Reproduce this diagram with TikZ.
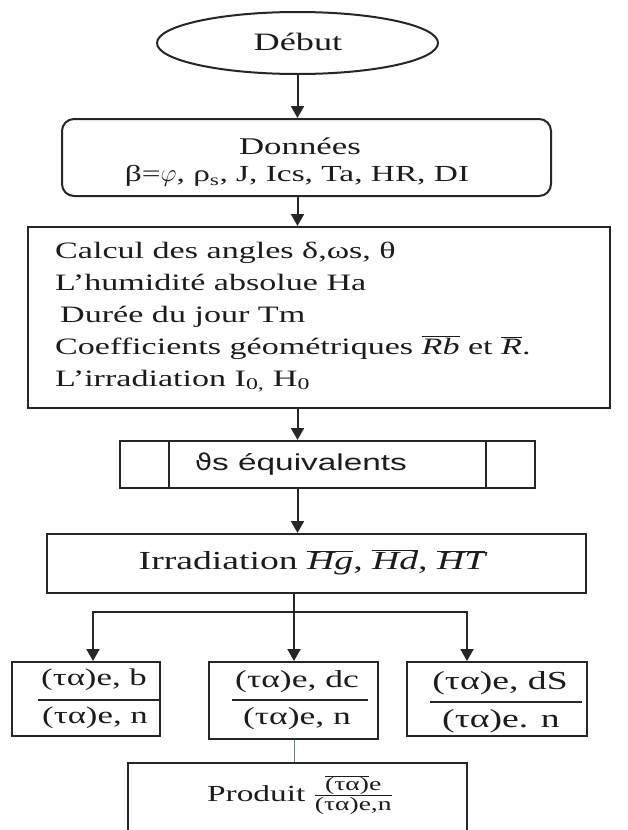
\documentclass[tikz,border=0pt]{standalone}
\usepackage{fontspec}
\setmainfont{Liberation Serif}[FakeStretch=1.45]
\setsansfont{Liberation Sans}[FakeStretch=1.45]
\newfontfamily\dvs{DejaVu Sans}[FakeStretch=1.2]
\usetikzlibrary{shapes.geometric,arrows.meta}
\newcommand{\ovl}[1]{$\overline{\hbox{\itshape #1}}$}
\newcommand{\fs}[1]{\fontsize{#1}{#1}\selectfont}
\definecolor{lncol}{HTML}{262626}
\definecolor{txcol}{HTML}{1C1C1C}
\definecolor{thincol}{HTML}{5E8088}
\tikzset{
  box/.style={draw=lncol, line width=2pt, rectangle, inner sep=0pt},
  txt/.style={inner sep=0pt, text=txcol},
  arr/.style={draw=lncol, line width=2pt, -{Triangle[width=13pt,length=12pt]}},
  plain/.style={draw=lncol, line width=2pt},
}
\begin{document}
\begin{tikzpicture}[x=1pt,y=-1pt]
\clip (0,0) rectangle (628,830);
\fill[white] (0,0) rectangle (628,830);
% start
\node[box, ellipse, minimum width=281pt, minimum height=62pt] (debut) at (297.5,43) {};
\node[txt, font=\fs{25}] (debutT) at (298,42) {Début};
% data
\node[box, rounded corners=12pt, minimum width=489pt, minimum height=77pt] (donnees) at (306.5,157.5) {};
\node[txt, font=\fs{24}] (don1) at (300,146) {Données};
\node[txt, font=\fs{23}] (don2) at (297,176) {β=$\varphi$, ρ\textsubscript{s}, J, Ics, Ta, HR, DI};
% computations
\node[box, minimum width=582pt, minimum height=181pt] (calc) at (319,317.5) {};
\begin{scope}[every node/.style={txt, anchor=base west, font=\fs{23.5}}]
\node (c1) at (55,258) {Calcul des angles δ,ωs, θ};
\node (c2) at (55,290) {L'humidité absolue Ha};
\node (c3) at (60,322) {Durée du jour Tm};
\node (c4) at (55,354) {Coefficients géométriques \ovl{Rb} et \ovl{R}.};
\node (c5) at (55,386) {L'irradiation I\textsubscript{0,} H\textsubscript{0}};
\end{scope}
% predefined process
\node[box, minimum width=415pt, minimum height=47pt] (equiv) at (327.5,464.5) {};
\draw[plain] ([xshift=50pt]equiv.north west) -- ([xshift=50pt]equiv.south west);
\draw[plain] ([xshift=-50pt]equiv.north east) -- ([xshift=-50pt]equiv.south east);
\node[txt, font=\sffamily\fs{23}] (equivT) at (301,464) {{\dvs ϑ}s équivalents};
% irradiation
\node[box, minimum width=539pt, minimum height=59pt] (irr) at (316.5,563.5) {};
\node[txt, font=\fs{26}] (irrT) at (312,562) {Irradiation \ovl{Hg}, \ovl{Hd}, \ovl{HT}};
% three ratio boxes
\node[box, minimum width=148pt, minimum height=74pt] (lb) at (86,699) {};
\node[box, minimum width=169pt, minimum height=77pt] (mb) at (293.5,700.5) {};
\node[box, minimum width=180pt, minimum height=74pt] (rb) at (497,699) {};
\node[txt, font=\fs{24}] (lbn) at (94,680) {(τα)e, b};
\node[txt, font=\fs{24}] (lbd) at (95,718) {(τα)e, n};
\draw[plain] (38,700) -- (160,700);
\node[txt, font=\fs{24.5}] (mbn) at (297,682) {(τα)e, dc};
\node[txt, font=\fs{24.5}] (mbd) at (297,719) {(τα)e, n};
\draw[plain] (232,700) -- (368,700);
\node[txt, font=\fs{26}] (rbn) at (500,683) {(τα)e, dS};
\node[txt, font=\fs{26}] (rbd) at (501,721) {(τα)e. n};
\draw[plain] (430,702) -- (582,702);
% product
\node[box, minimum width=339pt, minimum height=110pt] (prod) at (297.5,818) {};
\node[txt, font=\fs{23}] (prodT) at (300,795) {Produit $\frac{\overline{\hbox{\fs{19}(τα)}}\hbox{\fs{19}e}}{\hbox{\fs{19}(τα)e,n}}$};
% connectors
\draw[arr] (debut.south) -- (debut.south |- donnees.north);
\draw[arr] (donnees.south -| debut.south) -- (calc.north -| debut.south);
\draw[arr] (calc.south -| debut.south) -- (equiv.north -| debut.south);
\draw[arr] (equiv.south -| debut.south) -- (irr.north -| debut.south);
\coordinate (j) at (294,612);
\draw[plain] (irr.south -| j) -- (j);
\draw[arr] (j) -| ([xshift=7pt]lb.north);
\draw[arr] (j) -| ([xshift=-30pt]rb.north);
\draw[arr] (j) -- (mb.north -| j);
\draw[draw=thincol, line width=1pt] (mb.south -| j) -- (prod.north -| j);
\end{tikzpicture}
\end{document}
